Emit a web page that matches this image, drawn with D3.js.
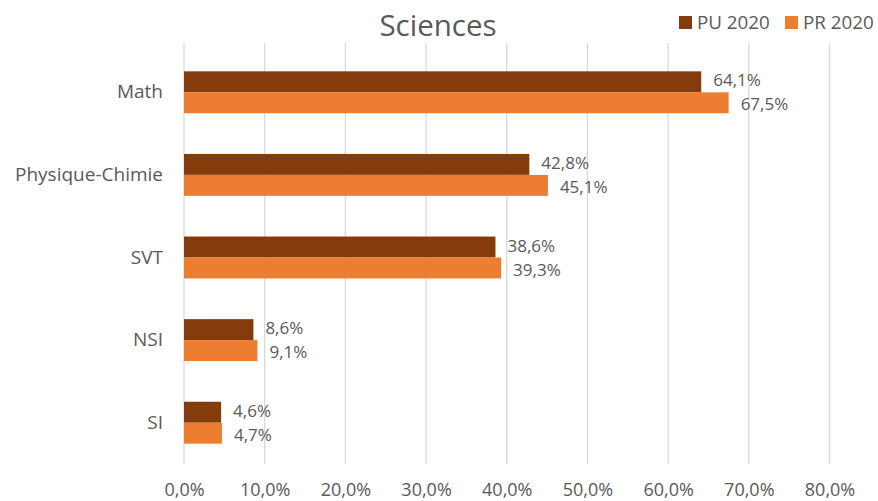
<!DOCTYPE html>
<html><head><meta charset="utf-8">
<script src="https://cdn.jsdelivr.net/npm/d3@7"></script>
<style>body{margin:0;background:#fff}text{font-family:"Open Sans",sans-serif;fill:#595959}</style>
</head><body><svg id="c" width="878" height="501"></svg>
<script>
const categories = ["Math","Physique-Chimie","SVT","NSI","SI"];
const seriesNames = ["PU 2020","PR 2020"];
const pu2020 = [64.1,42.8,38.6,8.6,4.6];
const pr2020 = [67.5,45.1,39.3,9.1,4.7];
const ticks = [0,10,20,30,40,50,60,70,80];
const colors = ["#843C0C","#ED7D31"];
const fmt = v => v.toFixed(1).replace(".", ",") + "%";

const svg = d3.select("#c");
const x = d3.scaleLinear().domain([0,80]).range([184,829.5]);
const y = d3.scaleBand().domain(categories).range([51,464]).paddingInner(0).paddingOuter(0);
const inner = d3.scaleBand().domain(seriesNames).range([0,y.bandwidth()]).paddingInner(0).paddingOuter(0.97);

// gridlines
svg.append("g").selectAll("line").data(ticks).join("line")
  .attr("x1",d=>x(d)).attr("x2",d=>x(d)).attr("y1",43).attr("y2",464)
  .attr("stroke","#D9D9D9").attr("stroke-width",1.3);

// x axis labels
const xa = svg.append("g").attr("transform","translate(0,485)")
  .call(d3.axisBottom(x).tickValues(ticks).tickSize(0).tickFormat(d=>fmt(d)));
xa.select(".domain").remove();
xa.selectAll("text").attr("font-size",18).attr("dy","0.45em").style("font-family","'Open Sans'").attr("fill","#595959");

// y axis labels
const ya = svg.append("g").attr("transform","translate(163,0)")
  .call(d3.axisLeft(y).tickSize(0).tickPadding(0));
ya.select(".domain").remove();
ya.selectAll("text").attr("font-size",19).attr("fill","#595959").style("font-family","'Open Sans'");

const data = categories.map((c,i)=>({cat:c, vals:[pu2020[i],pr2020[i]]}));
const groups = svg.append("g").selectAll("g").data(data).join("g")
  .attr("transform",d=>`translate(0,${y(d.cat)})`);
groups.selectAll("rect").data(d=>d.vals.map((v,j)=>({v,s:seriesNames[j],j}))).join("rect")
  .attr("x",x(0)).attr("y",d=>inner(d.s)).attr("width",d=>x(d.v)-x(0)).attr("height",inner.bandwidth())
  .attr("fill",d=>colors[d.j]);
groups.selectAll("text.lab").data(d=>d.vals.map((v,j)=>({v,s:seriesNames[j],j}))).join("text")
  .attr("class","lab").attr("x",d=>x(d.v)+12).attr("y",d=>inner(d.s)+inner.bandwidth()/2+(d.j===0?-1.5:1.5))
  .attr("dy","0.36em").attr("font-size",17).text(d=>fmt(d.v));

// title
svg.append("text").attr("x",438).attr("y",36).attr("text-anchor","middle").attr("font-size",29.5).text("Sciences");

// legend
const lg = svg.append("g");
const lx = [679,785];
seriesNames.forEach((s,i)=>{
  lg.append("rect").attr("x",lx[i]).attr("y",16).attr("width",13).attr("height",13).attr("fill",colors[i]);
  lg.append("text").attr("x",lx[i]+18).attr("y",22.5).attr("dy","0.36em").attr("font-size",18.8).text(s);
});
</script></body></html>
